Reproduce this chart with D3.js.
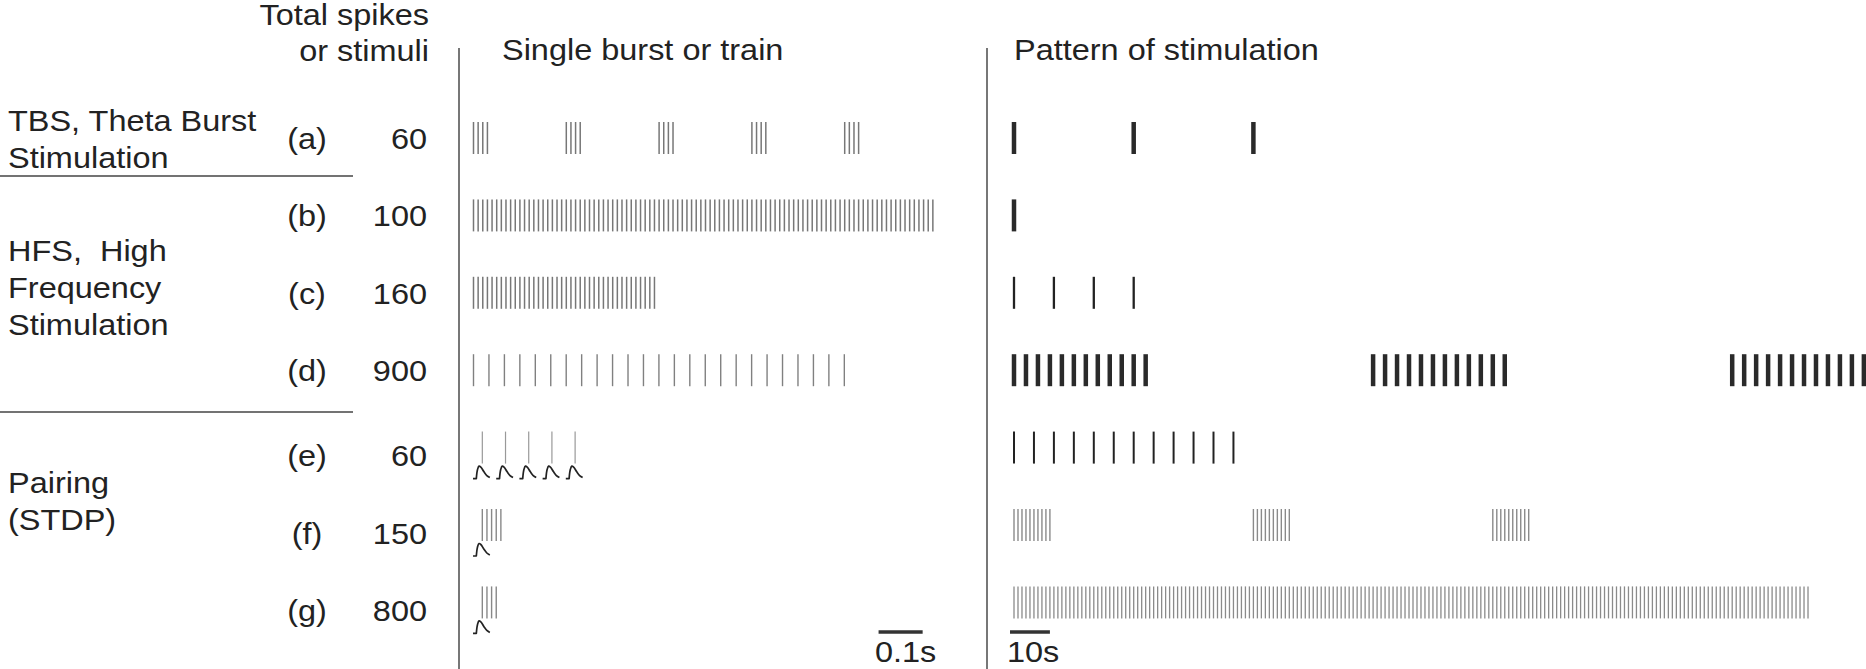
<!DOCTYPE html>
<html>
<head>
<meta charset="utf-8">
<script src="https://cdn.jsdelivr.net/npm/d3@7"></script>
<style>
  body { margin: 0; background: #fff; }
  text { font-family: "Liberation Sans", Arial, Helvetica, sans-serif; font-size: 29px; fill: #222; }
</style>
</head>
<body>
<div id="chart"></div>
<script>
var svgWidth = 1866;
var svgHeight = 669;

// rows of the figure
var rowLabels = ["(a)", "(b)", "(c)", "(d)", "(e)", "(f)", "(g)"];
var totalSpikes = [60, 100, 160, 900, 60, 150, 800];

// single burst or train (times in ms)
var spikesPerBurst = [4, 100, 40, 25, 1, 5, 4];
var spikeIntervalMs = [10, 10, 10, 33.3, 0, 10, 10];
var burstsPerTrain = [5, 1, 1, 1, 5, 1, 1];
var burstIntervalMs = [200, 0, 0, 0, 50, 0, 0];
var firstSpikeMs = [0, 0, 0, 0, 19, 19, 19];
var withEpsp = [false, false, false, false, true, true, true];

// pattern of stimulation (times in s)
var marksPerGroup = [3, 1, 4, 12, 12, 10, 200];
var markIntervalS = [30, 0, 10, 3, 5, 1, 1];
var groupCount = [1, 1, 1, 3, 1, 3, 1];
var groupIntervalS = [0, 0, 0, 90, 0, 60, 0];

// protocol names on the left
var groupNames = [
  ["TBS, Theta Burst", "Stimulation"],
  ["HFS,  High", "Frequency", "Stimulation"],
  ["Pairing", "(STDP)"]
];

var svg = d3.select("#chart")
  .append("svg")
  .attr("width", svgWidth)
  .attr("height", svgHeight);

// scales
var yRow = d3.scalePoint()
  .domain(rowLabels)
  .range([122, 586.4]);
var tickH = 32;

var xBurst = d3.scaleLinear()
  .domain([0, 1000])
  .range([473.5, 937.5]);

var xPattern = d3.scaleLinear()
  .domain([0, 100])
  .range([1014, 1413]);

// text helper: slightly widened type like the original
function addText(str, x, y, anchor) {
  return svg.append("text")
    .attr("transform", `translate(${x},${y}) scale(1.12,1)`)
    .attr("text-anchor", anchor || "start")
    .text(str);
}

// headers
addText("Total spikes", 429, 25, "end");
addText("or stimuli", 429, 61, "end");
addText("Single burst or train", 502, 60);
addText("Pattern of stimulation", 1014, 60);

// dividers
[459, 987].forEach(function(x) {
  svg.append("line")
    .attr("x1", x).attr("x2", x)
    .attr("y1", 48).attr("y2", svgHeight)
    .attr("stroke", "#555")
    .attr("stroke-width", 1.6);
});

// horizontal separators in the label column
[176, 412].forEach(function(y) {
  svg.append("line")
    .attr("x1", 0).attr("x2", 353)
    .attr("y1", y).attr("y2", y)
    .attr("stroke", "#444")
    .attr("stroke-width", 1.7);
});

// protocol names
var nameBaselines = [131, 261, 493];
groupNames.forEach(function(lines, i) {
  lines.forEach(function(s, j) {
    addText(s, 8, nameBaselines[i] + j * 37).style("white-space", "pre");
  });
});

// row letters and totals
rowLabels.forEach(function(lab, i) {
  var top = yRow(lab);
  var bottom = withEpsp[i] ? top + 47 : top + tickH;
  var base = (top + bottom) / 2 + 11;
  addText(lab, 307, base, "middle");
  addText(totalSpikes[i], 427, base, "end");
});

// single burst spikes
var spikeStroke = ["#777", "#777", "#777", "#808080", "#999", "#888", "#888"];
var spikeWidth = [1.5, 1.5, 1.5, 1.4, 1.2, 1.4, 1.4];

var epspLine = d3.line().curve(d3.curveCatmullRom.alpha(0.5));

rowLabels.forEach(function(lab, i) {
  var top = yRow(lab);
  var spikes = [];
  var bursts = [];
  d3.range(burstsPerTrain[i]).forEach(function(b) {
    var t0 = firstSpikeMs[i] + b * burstIntervalMs[i];
    bursts.push(t0);
    d3.range(spikesPerBurst[i]).forEach(function(k) {
      spikes.push(t0 + k * spikeIntervalMs[i]);
    });
  });

  svg.append("g")
    .selectAll("line")
    .data(spikes)
    .enter()
    .append("line")
    .attr("x1", d => xBurst(d))
    .attr("x2", d => xBurst(d))
    .attr("y1", top)
    .attr("y2", top + tickH)
    .attr("stroke", spikeStroke[i])
    .attr("stroke-width", spikeWidth[i]);

  if (withEpsp[i]) {
    var by = top + 47;
    svg.append("g")
      .selectAll("path")
      .data(bursts)
      .enter()
      .append("path")
      .attr("d", function(d) {
        var sx = xBurst(d);
        var flat = "M" + (sx - 9.3) + "," + by + "L" + (sx - 6) + "," + by;
        var shape = epspLine([
          [sx - 6, by], [sx - 4.8, by - 9], [sx - 3.3, by - 12.5],
          [sx - 1.5, by - 11.5], [sx + 1.5, by - 7], [sx + 4.5, by - 3],
          [sx + 7.5, by - 1]
        ]);
        return flat + shape.replace(/^M[^LC]*/, "");
      })
      .attr("fill", "none")
      .attr("stroke", "#222")
      .attr("stroke-width", 1.7)
      .attr("stroke-linejoin", "round");
  }
});

// pattern of stimulation marks
var markStroke = ["#2a2a2a", "#2a2a2a", "#222", "#2a2a2a", "#222", "#8a8a8a", "#8a8a8a"];
var markWidth = [4.5, 4.5, 2.3, 4.5, 2, 1.4, 1.3];

rowLabels.forEach(function(lab, i) {
  var top = yRow(lab);
  var marks = [];
  d3.range(groupCount[i]).forEach(function(g) {
    d3.range(marksPerGroup[i]).forEach(function(k) {
      marks.push(g * groupIntervalS[i] + k * markIntervalS[i]);
    });
  });

  svg.append("g")
    .selectAll("line")
    .data(marks)
    .enter()
    .append("line")
    .attr("x1", d => xPattern(d))
    .attr("x2", d => xPattern(d))
    .attr("y1", top)
    .attr("y2", top + tickH)
    .attr("stroke", markStroke[i])
    .attr("stroke-width", markWidth[i]);
});

// scale bars
var barY = 632;
svg.append("line")
  .attr("x1", xBurst(873)).attr("x2", xBurst(968))
  .attr("y1", barY).attr("y2", barY)
  .attr("stroke", "#333").attr("stroke-width", 3.3);
addText("0.1s", 875, 662);

svg.append("line")
  .attr("x1", xPattern(-1)).attr("x2", xPattern(9))
  .attr("y1", barY).attr("y2", barY)
  .attr("stroke", "#333").attr("stroke-width", 3.3);
addText("10s", 1007, 662);
</script>
</body>
</html>
